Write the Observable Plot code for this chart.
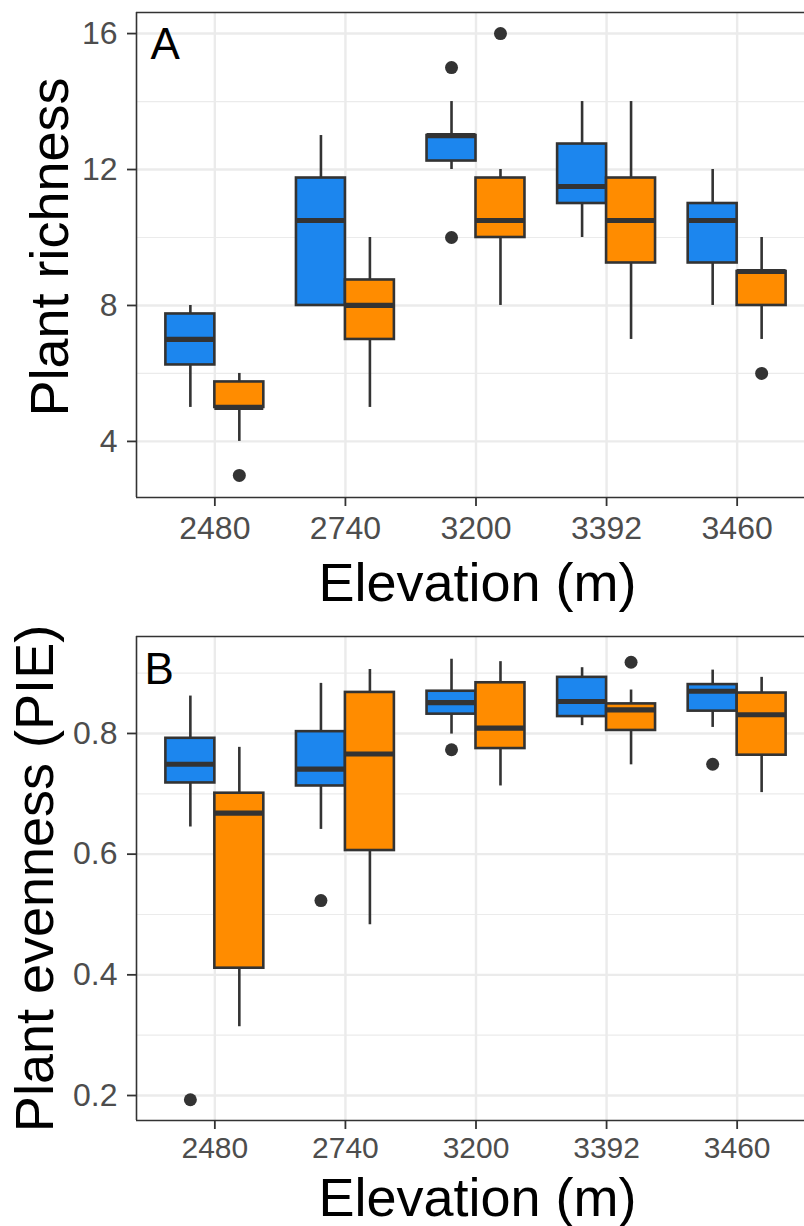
<!DOCTYPE html>
<html><head><meta charset="utf-8">
<script src="https://cdn.jsdelivr.net/npm/d3@7"></script>
<script src="https://cdn.jsdelivr.net/npm/@observablehq/plot@0.6"></script>
<style>
html,body{margin:0;padding:0;background:#fff;overflow:hidden;}
#chart svg{display:block;}
</style></head><body><div id="chart"></div>
<script>
const elevations = ["2480", "2740", "3200", "3392", "3460"];
const groups = ["Group 1", "Group 2"];
const groupColors = ["#1C86EE", "#FF8C00"];

// each entry: [lower whisker, Q1, median, Q3, upper whisker]
const richnessGroup1 = [[5, 6.25, 7, 7.75, 8], [8, 8, 10.5, 11.75, 13], [12, 12.25, 13, 13, 14], [10, 11, 11.5, 12.75, 14], [8, 9.25, 10.5, 11, 12]];
const richnessGroup2 = [[4, 5, 5, 5.75, 6], [5, 7, 8, 8.75, 10], [8, 10, 10.5, 11.75, 12], [7, 9.25, 10.5, 11.75, 14], [7, 8, 9, 9, 10]];
const richnessOutliers = [["2480", "Group 2", 3], ["3200", "Group 1", 15], ["3200", "Group 1", 10], ["3200", "Group 2", 16], ["3460", "Group 2", 6]];

const evennessGroup1 = [[0.645, 0.718, 0.749, 0.792, 0.862], [0.641, 0.713, 0.741, 0.803, 0.883], [0.799, 0.832, 0.851, 0.870, 0.923], [0.813, 0.828, 0.853, 0.893, 0.909], [0.810, 0.837, 0.870, 0.881, 0.905]];
const evennessGroup2 = [[0.314, 0.411, 0.668, 0.701, 0.777], [0.483, 0.606, 0.766, 0.868, 0.906], [0.713, 0.775, 0.809, 0.884, 0.919], [0.748, 0.805, 0.839, 0.849, 0.872], [0.702, 0.764, 0.831, 0.867, 0.893]];
const evennessOutliers = [["2480", "Group 1", 0.193], ["2740", "Group 1", 0.523], ["3200", "Group 1", 0.773], ["3392", "Group 2", 0.918], ["3460", "Group 1", 0.749]];

const richnessTicks = [4, 8, 12, 16];
const richnessMinor = [6, 10, 14];
const evennessTicks = [0.2, 0.4, 0.6, 0.8];
const evennessMinor = [0.3, 0.5, 0.7, 0.9];

const dodge = 0.375;
const FONT = "'Liberation Sans', Arial, Helvetica, sans-serif";
const DARK = "#333333";
const GRID = "#EBEBEB";

function boxRows(g1, g2) {
  const rows = [];
  [g1, g2].forEach((s, gi) => s.forEach((v, i) => rows.push({
    elevation: elevations[i], group: groups[gi], gi, i,
    lo: v[0], q1: v[1], med: v[2], q3: v[3], hi: v[4]
  })));
  return rows;
}
function outlierRows(list) {
  return list.map(([e, g, v]) => ({elevation: e, group: g, i: elevations.indexOf(e), gi: groups.indexOf(g), value: v}));
}
const xPos = d => d.i + (d.gi === 0 ? -dodge / 2 : dodge / 2);

function panel(o) {
  const rows = boxRows(o.g1, o.g2);
  const outs = outlierRows(o.outliers);
  return Plot.plot({
    width: 804,
    height: o.height,
    marginLeft: 136,
    marginRight: 0,
    marginTop: o.marginTop,
    marginBottom: o.marginBottom,
    style: {fontFamily: FONT, background: "white", overflow: "hidden"},
    x: {domain: [-0.6, 4.6], range: [136, 815]},
    y: {domain: o.yDomain},
    color: {domain: groups, range: groupColors},
    marks: [
      Plot.gridY(o.minor, {stroke: GRID, strokeOpacity: 1, strokeWidth: 1.2}),
      Plot.gridY(o.ticks, {stroke: GRID, strokeOpacity: 1, strokeWidth: 2.4}),
      Plot.gridX([0, 1, 2, 3, 4], {stroke: GRID, strokeOpacity: 1, strokeWidth: 2.4}),
      Plot.ruleX(rows, {x: xPos, y1: "lo", y2: "q1", stroke: DARK, strokeWidth: 2.6}),
      Plot.ruleX(rows, {x: xPos, y1: "q3", y2: "hi", stroke: DARK, strokeWidth: 2.6}),
      Plot.rect(rows, {x1: d => xPos(d) - dodge / 2, x2: d => xPos(d) + dodge / 2, y1: "q1", y2: "q3", fill: "group", stroke: DARK, strokeWidth: 2.6}),
      Plot.ruleY(rows, {y: "med", x1: d => xPos(d) - dodge / 2, x2: d => xPos(d) + dodge / 2, stroke: DARK, strokeWidth: 5.2}),
      Plot.dot(outs, {x: xPos, y: "value", r: 6.5, fill: DARK, stroke: "none"}),
      Plot.ruleY([o.yDomain[0], o.yDomain[1]], {stroke: DARK, strokeWidth: 1.6}),
      Plot.ruleX([-0.6], {stroke: DARK, strokeWidth: 1.6}),
      Plot.axisY(o.ticks, {tickFormat: o.fmt, tickSize: 9, tickPadding: 10, fontSize: 32, stroke: DARK, strokeWidth: 1.8, fill: "#4D4D4D", label: null}),
      Plot.axisX([0, 1, 2, 3, 4], {tickFormat: i => elevations[i], tickSize: 9, tickPadding: o.xTickPadding, fontSize: o.xTickSize, stroke: DARK, strokeWidth: 1.8, fill: "#4D4D4D", label: null}),
      Plot.text([o.yTitle], {text: d => d, frameAnchor: "left", rotate: -90, textAnchor: "middle", lineAnchor: "bottom", dx: o.yTitleDx, dy: o.yTitleDy, fontSize: 54, fill: "black"}),
      Plot.text([o.letter], {text: d => d, frameAnchor: "top-left", textAnchor: "start", lineAnchor: "top", dx: o.letterDx, dy: o.letterDy, fontSize: 44, fill: "black"}),
      Plot.text(["Elevation (m)"], {text: d => d, frameAnchor: "bottom", textAnchor: "middle", lineAnchor: "bottom", dx: 7, dy: o.xTitleDy, fontSize: 54, fill: "black"})
    ]
  });
}

const chart = document.getElementById("chart");
chart.append(panel({
  g1: richnessGroup1, g2: richnessGroup2, outliers: richnessOutliers,
  yDomain: [2.35, 16.62], ticks: richnessTicks, minor: richnessMinor, fmt: d => String(d),
  height: 618, marginTop: 12, marginBottom: 121,
  yTitle: "Plant richness", yTitleDx: -69, yTitleDy: -8,
  letter: "A", letterDx: 14, letterDy: 15, xTitleDy: 103, xTickPadding: 10, xTickSize: 32
}));
chart.append(panel({
  g1: evennessGroup1, g2: evennessGroup2, outliers: evennessOutliers,
  yDomain: [0.1586, 0.9607], ticks: evennessTicks, minor: evennessMinor, fmt: d => d.toFixed(1),
  height: 608, marginTop: 18, marginBottom: 106,
  yTitle: "Plant evenness (PIE)", yTitleDx: -84, yTitleDy: 0,
  letter: "B", letterDx: 8, letterDy: 16, xTitleDy: 95, xTickPadding: 7, xTickSize: 30
}));
</script></body></html>
